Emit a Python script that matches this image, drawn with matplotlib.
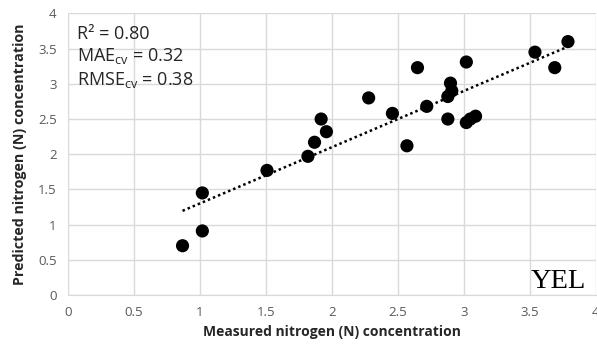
import matplotlib
matplotlib.use("Agg")
import matplotlib.pyplot as plt
import numpy as np

measured = [0.87, 1.02, 1.02, 1.51, 1.82, 1.87, 1.92, 1.96, 2.28, 2.46, 2.57, 2.65, 2.72,
            2.88, 2.88, 2.90, 2.91, 3.02, 3.02, 3.05, 3.09, 3.54, 3.69, 3.79]
predicted = [0.70, 0.91, 1.45, 1.77, 1.97, 2.17, 2.50, 2.32, 2.80, 2.58, 2.12, 3.23, 2.68,
             2.50, 2.82, 3.01, 2.90, 3.31, 2.45, 2.50, 2.54, 3.45, 3.23, 3.60]
x_ticks = [0, 0.5, 1, 1.5, 2, 2.5, 3, 3.5, 4]
x_ticklabels = ["0", "0.5", "1", "1.5", "2", "2.5", "3", "3.5", "4"]
y_ticks = [0, 0.5, 1, 1.5, 2, 2.5, 3, 3.5, 4]
y_ticklabels = ["0", "0.5", "1", "1.5", "2", "2.5", "3", "3.5", "4"]
stats_lines = ["R² = 0.80", "MAE$_{\\mathregular{cv}}$ = 0.32", "RMSE$_{\\mathregular{cv}}$ = 0.38"]
label_tag = "YEL"

plt.rcParams['font.family'] = ['Open Sans', 'DejaVu Sans']
plt.rcParams['mathtext.fontset'] = 'custom'
plt.rcParams['mathtext.rm'] = 'Open Sans'

fig = plt.figure(figsize=(5.97, 3.54), dpi=100)
ax = fig.add_axes([0.1134, 0.1667, 0.8844, 0.7953])

grid_c = "#d9d9d9"
ax.set_xlim(0, 4)
ax.set_ylim(0, 4)
ax.set_xticks(x_ticks)
ax.set_xticklabels(x_ticklabels)
ax.set_yticks(y_ticks)
ax.set_yticklabels(y_ticklabels)
ax.grid(True, color=grid_c, linewidth=1)
ax.set_axisbelow(True)
for s in ["top", "right", "left"]:
    ax.spines[s].set_visible(False)
ax.spines["bottom"].set_color(grid_c)
ax.tick_params(length=0, labelsize=9.5, colors="#595959", pad=8)

ax.scatter(measured, predicted, s=90, color="black", zorder=3, edgecolors="none")

m, b = np.polyfit(measured, predicted, 1)
xs = np.array([min(measured), max(measured)])
ax.plot(xs, m * xs + b, linestyle=(0, (1, 1.2)), color="black", linewidth=1.8, zorder=2)

ax.text(0.017, 0.96, "\n".join(stats_lines), transform=ax.transAxes, va="top", ha="left",
        fontsize=13, color="#262626", linespacing=1.25)
ax.text(0.982, 0.025, label_tag, transform=ax.transAxes, va="baseline", ha="right",
        fontsize=20.5, family="Liberation Serif", color="black")

ax.set_xlabel("Measured nitrogen (N) concentration", fontsize=10, fontweight="bold",
              color="#262626", labelpad=4)
ax.set_ylabel("Predicted nitrogen (N) concentration", fontsize=10.3, fontweight="bold",
              color="#262626", labelpad=8)

fig.savefig("out.png", dpi=100)
